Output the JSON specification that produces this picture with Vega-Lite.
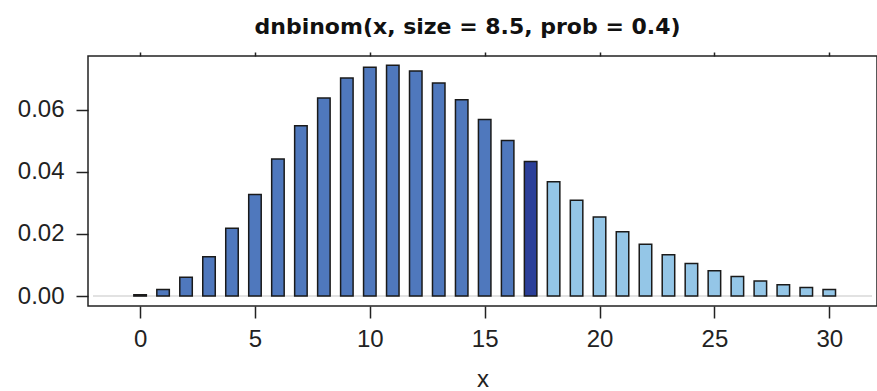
{
  "$schema": "https://vega.github.io/schema/vega-lite/v6.json",
  "width": 789,
  "height": 250,
  "autosize": {"type": "none"},
  "padding": {"left": 88, "top": 56, "right": 0, "bottom": 85},
  "background": "white",
  "title": {
    "text": "dnbinom(x, size = 8.5, prob = 0.4)",
    "font": "DejaVu Sans",
    "fontWeight": "bold",
    "fontSize": 22,
    "color": "#111111",
    "anchor": "middle",
    "frame": "group",
    "baseline": "alphabetic",
    "offset": -5,
    "dx": -15
  },
  "config": {
    "view": {"stroke": "#222222", "strokeWidth": 1.5},
    "axis": {"grid": false, "domain": false, "labelFont": "Liberation Sans", "titleFont": "Liberation Sans", "labelColor": "#222222", "titleColor": "#222222", "tickColor": "#222222", "tickWidth": 1.5}
  },
  "data": {
    "values": [
      {"x": 0, "p": 0.000414, "part": "below"},
      {"x": 1, "p": 0.002114, "part": "below"},
      {"x": 2, "p": 0.006025, "part": "below"},
      {"x": 3, "p": 0.012652, "part": "below"},
      {"x": 4, "p": 0.021825, "part": "below"},
      {"x": 5, "p": 0.032737, "part": "below"},
      {"x": 6, "p": 0.044195, "part": "below"},
      {"x": 7, "p": 0.054928, "part": "below"},
      {"x": 8, "p": 0.063854, "part": "below"},
      {"x": 9, "p": 0.070240, "part": "below"},
      {"x": 10, "p": 0.073752, "part": "below"},
      {"x": 11, "p": 0.074422, "part": "below"},
      {"x": 12, "p": 0.072561, "part": "below"},
      {"x": 13, "p": 0.068654, "part": "below"},
      {"x": 14, "p": 0.063260, "part": "below"},
      {"x": 15, "p": 0.056934, "part": "below"},
      {"x": 16, "p": 0.050173, "part": "below"},
      {"x": 17, "p": 0.043385, "part": "at"},
      {"x": 18, "p": 0.036877, "part": "above"},
      {"x": 19, "p": 0.030860, "part": "above"},
      {"x": 20, "p": 0.025460, "part": "above"},
      {"x": 21, "p": 0.020732, "part": "above"},
      {"x": 22, "p": 0.016680, "part": "above"},
      {"x": 23, "p": 0.013271, "part": "above"},
      {"x": 24, "p": 0.010451, "part": "above"},
      {"x": 25, "p": 0.008152, "part": "above"},
      {"x": 26, "p": 0.006302, "part": "above"},
      {"x": 27, "p": 0.004832, "part": "above"},
      {"x": 28, "p": 0.003676, "part": "above"},
      {"x": 29, "p": 0.002776, "part": "above"},
      {"x": 30, "p": 0.002082, "part": "above"}
    ]
  },
  "layer": [
    {
      "mark": {"type": "rule", "color": "#e2e2e2", "strokeWidth": 2},
      "encoding": {
        "x": {"datum": -2.05, "type": "quantitative", "scale": {"domain": [-2.05, 31.86], "nice": false, "zero": false},
              "axis": {"orient": "top", "values": [0, 5, 10, 15, 20, 25, 30], "labels": false, "tickSize": 4, "title": null}},
        "x2": {"datum": 31.86},
        "y": {"datum": 0, "type": "quantitative", "scale": {"domain": [-0.00321, 0.07737], "nice": false, "zero": false}}
      }
    },
    {
      "mark": {"type": "bar", "width": 12.5, "stroke": "#1a1a1a", "strokeWidth": 1.5},
      "encoding": {
        "x": {"field": "x", "type": "quantitative", "scale": {"domain": [-2.05, 31.86], "nice": false, "zero": false},
              "axis": {"orient": "bottom", "values": [0, 5, 10, 15, 20, 25, 30], "tickSize": 12, "labelFontSize": 24, "labelPadding": 9, "title": "x", "titleFontSize": 24, "titleFontWeight": "normal", "titlePadding": 16}},
        "y": {"field": "p", "type": "quantitative", "scale": {"domain": [-0.00321, 0.07737], "nice": false, "zero": false},
              "axis": {"values": [0, 0.02, 0.04, 0.06], "format": ".2f", "tickSize": 12, "labelFontSize": 24, "labelPadding": 12, "title": null}},
        "color": {"field": "part", "type": "nominal", "scale": {"domain": ["below", "at", "above"], "range": ["#4f78bd", "#2b3f99", "#94c6e7"]}, "legend": null}
      }
    }
  ]
}
